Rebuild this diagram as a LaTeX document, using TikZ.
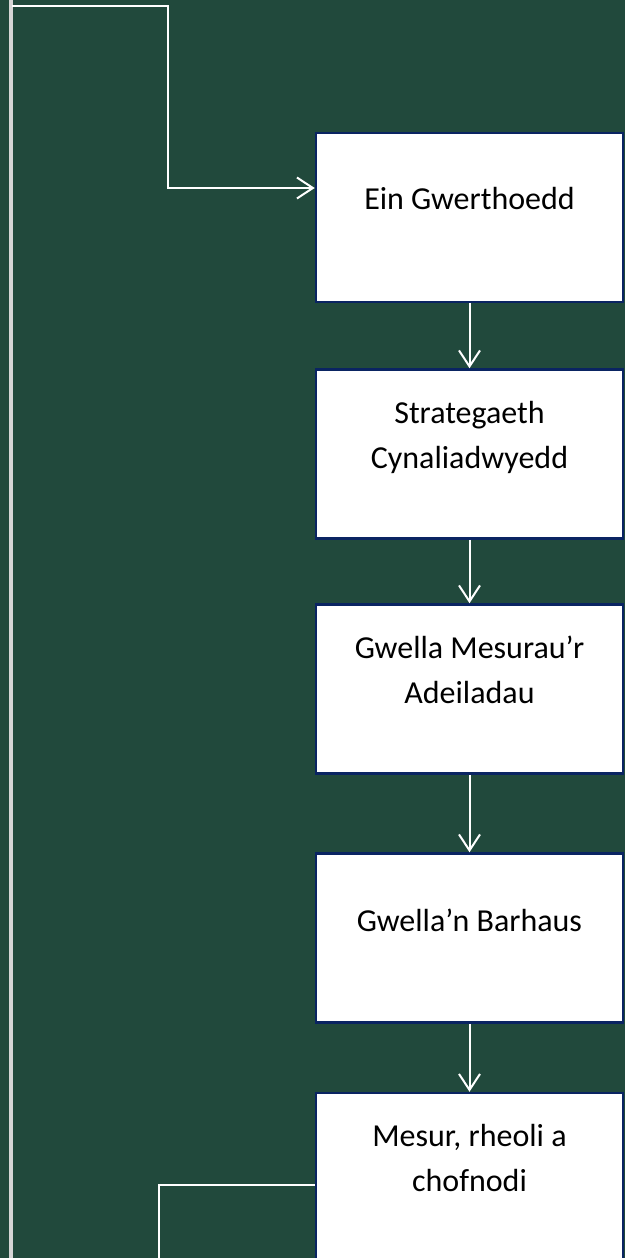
\documentclass[tikz,border=0pt]{standalone}
\usepackage{fontspec}
\setmainfont{Carlito}
\usepackage[HTML]{xcolor}
\usetikzlibrary{positioning, arrows.meta}
\definecolor{bgGreen}{HTML}{21493C}
\definecolor{boxBlue}{HTML}{0A2462}
\definecolor{railGrey}{HTML}{D6D6D6}

\begin{document}
\begin{tikzpicture}[x=1pt, y=-1pt,
  box/.style={draw=boxBlue, line width=2.5pt, fill=white, minimum width=307pt, minimum height=169pt, inner sep=0pt},
  lbl/.style={font=\fontsize{32}{45}\selectfont, align=center, anchor=base, inner sep=0pt},
  link/.style={white, line width=2pt},
  arr/.style={link, -{Straight Barb[length=16pt, width=21pt]}}]
\useasboundingbox (0,0) rectangle (625,1258);
\clip (0,0) rectangle (625,1258);
\fill[bgGreen] (0,0) rectangle (625,1258);

% left rail
\coordinate (railTop) at (11,0);
\coordinate (railBot) at (11,1258);
\draw[railGrey, line width=3.5pt] (railTop) -- (railBot);

% steps
\node[box] (B1) at (469.5, 217.5) {};
\node[box] (B2) at (469.5, 454) {};
\node[box] (B3) at (469.5, 689) {};
\node[box] (B4) at (469.5, 938) {};
\node[box] (B5) at (469.5, 1177.5) {};

% base of a two-line label is its last line
\node[lbl] (T1) at ([yshift=-78pt]B1.north) {Ein Gwerthoedd};
\node[lbl] (T2) at ([yshift=-100pt]B2.north) {Strategaeth\\Cynaliadwyedd};
\node[lbl] (T3) at ([yshift=-100pt]B3.north) {Gwella Mesurau’r\\Adeiladau};
\node[lbl] (T4) at ([yshift=-79pt]B4.north) {Gwella’n Barhaus};
\node[lbl] (T5) at ([yshift=-100pt]B5.north) {Mesur, rheoli a\\chofnodi};

\draw[arr] (B1) -- (B2);
\draw[arr] (B2) -- (B3);
\draw[arr] (B3) -- (B4);
\draw[arr] (B4) -- (B5);

% loop back
\coordinate (loopStart) at (12,6);
\coordinate (loopTurn) at (167.5,188);
\coordinate (loopEnd) at (159,1258);
\draw[arr] (loopStart) -| (loopTurn) -- (loopTurn -| B1.west);
\draw[link] ([yshift=-7.5pt]B5.west) -| (loopEnd);
\end{tikzpicture}
\end{document}
